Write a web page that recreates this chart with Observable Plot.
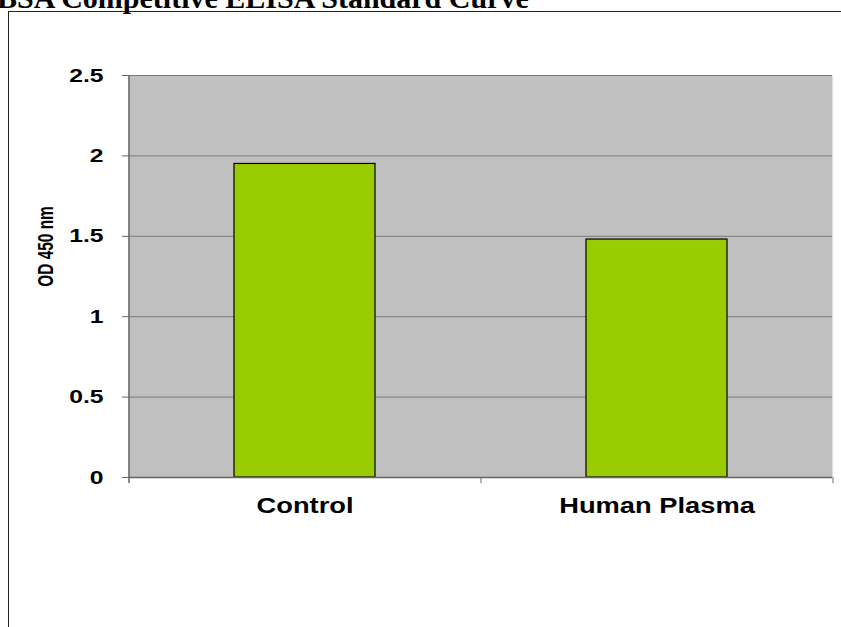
<!DOCTYPE html>
<html>
<head>
<meta charset="utf-8">
<script src="https://cdn.jsdelivr.net/npm/d3@7"></script>
<script src="https://cdn.jsdelivr.net/npm/@observablehq/plot@0.6"></script>
<style>
  html, body { margin: 0; padding: 0; background: #fff; overflow: hidden; }
  #wrap { position: relative; width: 841px; height: 627px; }
  #border { position: absolute; left: 8px; top: 11px; width: 900px; height: 700px; border: 1.5px solid #222; box-sizing: border-box; }
  #title { position: absolute; left: -3px; top: -17px; font: bold 30px "Liberation Serif", "Times New Roman", serif; line-height: 30px; white-space: nowrap; color: #000; }
  #chart { position: absolute; left: 0; top: 0; }
</style>
</head>
<body>
<div id="wrap">
  <div id="border"></div>
  <div id="chart"></div>
  <div id="title"></div>
</div>
<script>
const title = "BSA Competitive ELISA Standard Curve";
const categories = ["Control", "Human Plasma"];
const values = [1.95, 1.48];
const yTicks = [0, 0.5, 1, 1.5, 2, 2.5];
const yLabel = "OD 450 nm";

document.getElementById("title").textContent = title;

const data = categories.map((c, i) => ({category: c, value: values[i]}));

const W = 841, H = 627, mL = 128, mR = 9, mT = 75, mB = 150;
const step = (W - mL - mR) / categories.length;

const chart = Plot.plot({
  width: W, height: H,
  marginLeft: mL, marginRight: mR, marginTop: mT, marginBottom: mB,
  style: {fontFamily: "'Liberation Sans', Arial, sans-serif", background: "transparent", overflow: "visible"},
  x: {type: "band", domain: categories, paddingInner: 0.6, paddingOuter: 0.3, label: null},
  y: {domain: [0, 2.5], label: null},
  marks: [
    Plot.frame({fill: "#C0C0C0", stroke: null}),
    Plot.gridY({ticks: yTicks.filter(t => t > 0), stroke: "#7a7a7a", strokeOpacity: 1, strokeWidth: 1}),
    Plot.barY(data, {x: "category", y: "value", fill: "#99CC00", stroke: "#000", strokeWidth: 1.2}),
    Plot.ruleY([0], {stroke: "#666", strokeWidth: 1.5}),
    Plot.ruleX([categories[0]], {x: d => d, dx: -step / 2, insetBottom: -6, stroke: "#666", strokeWidth: 1.5}),
    Plot.ruleX(categories.slice(1), {x: d => d, dx: -step / 2, y1: 0, y2: 0, insetBottom: -6, stroke: "#666", strokeWidth: 1}),
    Plot.ruleX(categories.slice(-1), {x: d => d, dx: step / 2, y1: 0, y2: 0, insetBottom: -6, stroke: "#666", strokeWidth: 1}),
    Plot.axisY({ticks: yTicks, tickFormat: d => String(d), tickSize: 6, tickPadding: 19, fontSize: 19, fontWeight: "bold", stroke: "#666", fill: "#000", label: null}),
    Plot.axisX({tickSize: 0, tickPadding: 20, fontSize: 22, fontWeight: "bold", fill: "#000", label: null}),
    Plot.text([yLabel], {text: d => d, frameAnchor: "left", textAnchor: "middle", rotate: -90, dx: -83, dy: -30, fontSize: 22, fontWeight: "bold", fill: "#000"})
  ]
});

document.getElementById("chart").append(chart);

function stretch(sel, k) {
  chart.querySelectorAll(sel).forEach(t => {
    const L = t.getComputedTextLength();
    t.setAttribute("textLength", L * k);
    t.setAttribute("lengthAdjust", "spacingAndGlyphs");
  });
}
stretch('g[aria-label="y-axis tick label"] text', 1.3);
stretch('g[aria-label="x-axis tick label"] text', 1.24);
stretch('g[aria-label="text"] text', 0.7);
</script>
</body>
</html>
